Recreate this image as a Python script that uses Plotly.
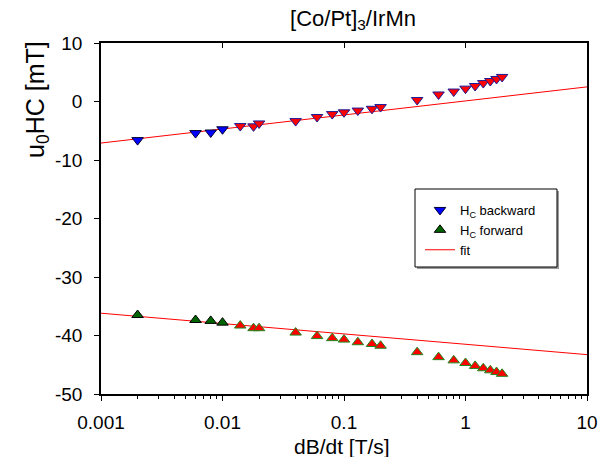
import numpy as np
import plotly.graph_objects as go

# ---- data ----
rate = [0.002, 0.006, 0.008, 0.01, 0.014, 0.018, 0.02, 0.04, 0.06, 0.08, 0.1,
        0.13, 0.17, 0.2, 0.4, 0.6, 0.8, 1.0, 1.2, 1.4, 1.6, 1.8, 2.0]
hc_backward = [-6.6, -5.4, -5.3, -4.75, -4.2, -4.25, -3.75, -3.35, -2.65, -2.15, -1.85,
               -1.55, -1.25, -0.95, 0.25, 1.2, 1.7, 2.2, 2.65, 3.15, 3.5, 3.85, 4.2]
hc_forward = [-36.5, -37.35, -37.5, -37.8, -38.3, -38.75, -38.75, -39.5, -40.1, -40.45, -40.7,
              -41.15, -41.45, -41.75, -42.85, -43.7, -44.25, -44.7, -45.2, -45.6, -45.95, -46.25, -46.55]
# fit: H = a + b*log10(dB/dt)
fit_back = (0.1, 2.4)
fit_fwd = (-41.5, -1.77)
fit_x = [0.001, 10]

title = "[Co/Pt]<sub>3</sub>/IrMn"
x_title = "dB/dt [T/s]"
y_title = "u<sub>0</sub>HC [mT]"
x_ticks = [0.001, 0.01, 0.1, 1, 10]
x_ticklabels = ["0.001", "0.01", "0.1", "1", "10"]
y_ticks = [10, 0, -10, -20, -30, -40, -50]
y_ticklabels = ["10", "0", "-10", "-20", "-30", "-40", "-50"]

FONT = "Liberation Sans, Arial, sans-serif"
n_early = 4
back_fill = ["#0000ff"] * n_early + ["#ff0000"] * (len(rate) - n_early)
back_edge = ["#000033"] * n_early + ["#1a1a9a"] * (len(rate) - n_early)
fwd_fill = ["#006400"] * n_early + ["#ff0000"] * (len(rate) - n_early)
fwd_edge = ["#000000"] * n_early + ["#1e8a1e"] * (len(rate) - n_early)

# plot-area geometry (px)
L, R, T, B, W, H = 101, 24, 43, 63, 611, 457
PW, PH = W - L - R, H - T - B


def px_x(p):
    return (p - L) / PW


def px_y(p):
    return (H - B - p) / PH


xl = np.logspace(np.log10(fit_x[0]), np.log10(fit_x[1]), 50)

fig = go.Figure()
fig.add_trace(go.Scatter(
    x=xl, y=fit_back[0] + fit_back[1] * np.log10(xl), mode="lines",
    line=dict(color="#ff0000", width=1), showlegend=False, hoverinfo="skip"))
fig.add_trace(go.Scatter(
    x=xl, y=fit_fwd[0] + fit_fwd[1] * np.log10(xl), mode="lines",
    line=dict(color="#ff0000", width=1), showlegend=False, hoverinfo="skip"))
fig.add_trace(go.Scatter(
    x=rate, y=hc_backward, mode="markers", name="H<sub>C</sub> backward",
    marker=dict(symbol="triangle-down", size=10, color=back_fill,
                line=dict(color=back_edge, width=1))))
fig.add_trace(go.Scatter(
    x=rate, y=hc_forward, mode="markers", name="H<sub>C</sub> forward",
    marker=dict(symbol="triangle-up", size=10, color=fwd_fill,
                line=dict(color=fwd_edge, width=1))))
fig.add_trace(go.Scatter(
    x=[None], y=[None], mode="lines", name="fit",
    line=dict(color="#ff0000", width=1)))
# dummy trace for top axis
fig.add_trace(go.Scatter(x=[fit_x[0]], y=[y_ticks[0]], xaxis="x2", mode="markers",
                         marker=dict(opacity=0), showlegend=False, hoverinfo="skip"))

shapes = [
    # legend shadow and frame
    dict(type="rect", xref="paper", yref="paper",
         x0=px_x(417), x1=px_x(559), y0=px_y(269), y1=px_y(191),
         fillcolor="#9a9a9a", line=dict(width=0), layer="below"),
    dict(type="rect", xref="paper", yref="paper",
         x0=px_x(415), x1=px_x(557), y0=px_y(267), y1=px_y(189),
         fillcolor="white", line=dict(color="black", width=1), layer="below"),
]

fig.update_layout(
    width=W, height=H,
    margin=dict(l=L, r=R, t=T, b=B),
    paper_bgcolor="white", plot_bgcolor="white",
    font=dict(family=FONT, color="black"),
    title=dict(text=title, x=353 / W, xanchor="center",
               y=1 - 18 / H, yanchor="middle", yref="container",
               font=dict(size=22, family=FONT)),
    xaxis=dict(type="log", range=[-3, 1], tickvals=x_ticks, ticktext=x_ticklabels,
               ticks="outside", ticklen=5, tickwidth=1, tickcolor="black",
               showline=True, linecolor="black", linewidth=1.5,
               showgrid=False, zeroline=False, tickfont=dict(size=19),
               ticklabelstandoff=5,
               minor=dict(ticks="outside", ticklen=3, tickcolor="black", dtick="D1", showgrid=False)),
    xaxis2=dict(type="log", range=[-3, 1], overlaying="x", side="top", anchor="y",
                tickvals=x_ticks, showticklabels=False, ticks="inside", ticklen=5,
                tickcolor="black", showline=True, linecolor="black", linewidth=1.5,
                showgrid=False, zeroline=False),
    yaxis=dict(range=[-50, 10], tickvals=y_ticks, ticktext=y_ticklabels,
               ticks="outside", ticklen=5,
               tickcolor="black", showline=True, mirror=True, linecolor="black",
               linewidth=1.5, showgrid=False, zeroline=False, tickfont=dict(size=19),
               ticklabelstandoff=8),
    legend=dict(x=px_x(420), y=px_y(195), xanchor="left", yanchor="top",
                borderwidth=0, bgcolor="rgba(0,0,0,0)",
                font=dict(size=13, family=FONT), tracegroupgap=0),
    showlegend=True,
    shapes=shapes,
    annotations=[
        dict(text=y_title, xref="paper", yref="paper",
             x=px_x(37), y=px_y(100), textangle=-90,
             showarrow=False, font=dict(size=25, family=FONT),
             xanchor="center", yanchor="middle"),
        dict(text=x_title, xref="paper", yref="paper",
             x=px_x(342), y=px_y(446),
             showarrow=False, font=dict(size=21, family=FONT),
             xanchor="center", yanchor="middle"),
    ],
)

fig.write_html("out.html", config={"displayModeBar": False},
               post_script="document.body.style.margin='0px';document.body.style.overflow='hidden';")
